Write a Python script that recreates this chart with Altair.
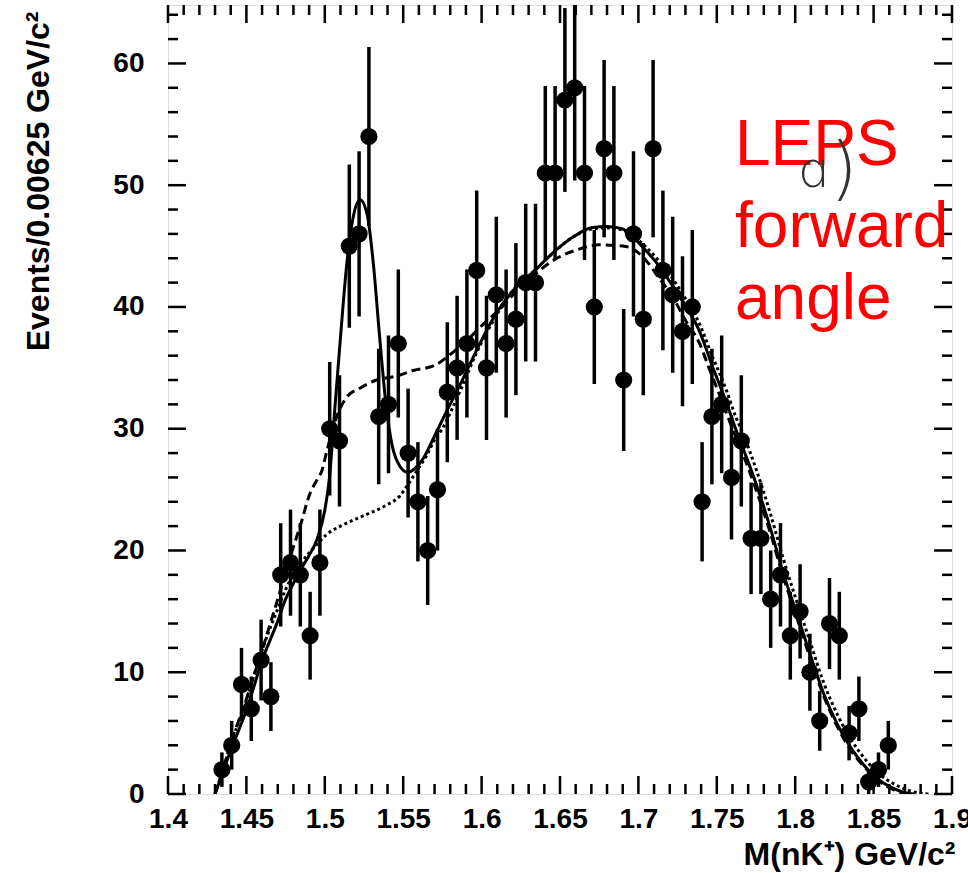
import altair as alt
import pandas as pd
import numpy as np

# ---- histogram: M(nK+) in bins of 0.00625 GeV/c^2 ----
BIN_WIDTH = 0.00625
FIRST_BIN = 5  # first filled bin counted from 1.4 GeV/c^2
counts = [2, 4, 9, 7, 11, 8, 18, 19, 18, 13,
          19, 30, 29, 45, 46, 54, 31, 32, 37, 28,
          24, 20, 25, 33, 35, 37, 43, 35, 41, 37,
          39, 42, 42, 51, 51, 57, 58, 51, 40, 53,
          51, 34, 46, 39, 53, 43, 41, 38, 40, 24,
          31, 32, 26, 29, 21, 21, 16, 18, 13, 15,
          10, 6, 14, 13, 5, 7, 1, 2, 4]
mass = [round(1.4 + (FIRST_BIN + i + 0.5) * BIN_WIDTH, 6) for i in range(len(counts))]

# ---- fit curves ----
solid_x = [1.430, 1.435, 1.440, 1.445, 1.450, 1.455, 1.460, 1.465, 1.470, 1.475,
           1.480, 1.485, 1.490, 1.495, 1.500, 1.503, 1.506, 1.510, 1.514, 1.518,
           1.5225, 1.527, 1.531, 1.535, 1.539, 1.543, 1.548, 1.553, 1.558, 1.563,
           1.570, 1.576, 1.587, 1.597, 1.608, 1.619, 1.634, 1.646, 1.659, 1.670,
           1.680, 1.690, 1.696, 1.705, 1.713, 1.722, 1.730, 1.739, 1.747, 1.756,
           1.762, 1.767, 1.775, 1.784, 1.792, 1.801, 1.810, 1.818, 1.827, 1.836,
           1.845, 1.853, 1.862, 1.870, 1.876]
solid_y = [0.0, 1.8, 3.6, 5.2, 6.9, 8.9, 11.0, 12.6, 14.2, 16.0,
           17.3, 18.5, 19.6, 20.9, 23.3, 26.0, 31.0, 37.5, 43.5, 47.3,
           48.8, 47.6, 43.5, 37.5, 32.0, 28.6, 26.9, 26.4, 26.8, 27.6,
           29.4, 31.0, 33.8, 36.5, 39.2, 41.2, 43.0, 44.5, 45.8, 46.5,
           46.6, 46.4, 45.8, 44.6, 43.4, 41.7, 40.1, 38.0, 35.2, 32.2,
           30.0, 28.3, 25.5, 21.9, 18.3, 14.8, 11.3, 8.3, 5.7, 3.7,
           2.2, 1.2, 0.5, 0.1, 0.0]

dashed_x = [1.430, 1.435, 1.440, 1.445, 1.450, 1.455, 1.460, 1.465, 1.470, 1.475,
            1.480, 1.485, 1.490, 1.495, 1.498, 1.501, 1.507, 1.514, 1.522, 1.533,
            1.545, 1.557, 1.570, 1.581, 1.591, 1.602, 1.613, 1.623, 1.636, 1.648,
            1.661, 1.675, 1.690, 1.696, 1.705, 1.713, 1.722, 1.730, 1.739, 1.745,
            1.752, 1.760, 1.767, 1.775, 1.784, 1.792, 1.801, 1.810, 1.818, 1.827,
            1.836, 1.845, 1.853, 1.862, 1.870]
dashed_y = [0.0, 2.0, 4.2, 6.0, 7.8, 9.8, 11.8, 13.9, 16.0, 18.2,
            20.3, 22.3, 24.5, 25.8, 26.5, 28.0, 30.8, 32.6, 33.3, 34.0,
            34.3, 34.8, 35.2, 36.2, 37.3, 38.7, 40.0, 41.4, 42.9, 44.0,
            44.7, 45.1, 45.0, 44.8, 43.8, 42.4, 40.8, 38.9, 37.0, 35.0,
            32.7, 30.0, 27.8, 25.0, 21.5, 18.0, 14.5, 11.0, 8.1, 5.5,
            3.5, 2.1, 1.1, 0.4, 0.0]

dotted_x = [1.430, 1.435, 1.440, 1.445, 1.450, 1.455, 1.460, 1.465, 1.470, 1.475,
            1.480, 1.485, 1.490, 1.495, 1.501, 1.510, 1.520, 1.531, 1.539, 1.548,
            1.554, 1.560, 1.565, 1.570, 1.575, 1.580, 1.587, 1.597, 1.608, 1.619,
            1.634, 1.646, 1.659, 1.670, 1.680, 1.690, 1.696, 1.705, 1.713, 1.722,
            1.730, 1.739, 1.747, 1.756, 1.762, 1.767, 1.775, 1.784, 1.792, 1.801,
            1.810, 1.818, 1.827, 1.836, 1.845, 1.853, 1.862, 1.870, 1.878, 1.886]
dotted_y = [0.0, 2.0, 4.0, 5.9, 7.7, 9.8, 11.8, 13.6, 15.2, 16.8,
            18.0, 19.0, 19.8, 20.5, 21.3, 22.0, 22.6, 23.2, 23.7, 24.5,
            25.6, 26.8, 27.8, 29.1, 30.0, 31.3, 33.3, 36.3, 39.0, 41.2,
            43.0, 44.5, 45.8, 46.4, 46.5, 46.3, 45.9, 44.9, 43.8, 42.3,
            40.7, 38.6, 36.0, 33.2, 31.0, 29.5, 26.7, 23.1, 19.5, 15.8,
            12.3, 9.2, 6.5, 4.4, 2.8, 1.7, 0.9, 0.4, 0.1, 0.0]

# ---- axes ----
x_labels = [1.4, 1.45, 1.5, 1.55, 1.6, 1.65, 1.7, 1.75, 1.8, 1.85, 1.9]
x_minor = [round(1.4 + 0.01 * i, 2) for i in range(51) if i % 5]
y_labels = [0, 10, 20, 30, 40, 50, 60]
y_minor = [v for v in range(2, 65, 2) if v % 10]

X_DOMAIN = [1.4, 1.9]
Y_DOMAIN = [0, 64.8]
W, H = 784, 789
FONT = "Liberation Sans"

xs = alt.Scale(domain=X_DOMAIN, nice=False, zero=False)
ys = alt.Scale(domain=Y_DOMAIN, nice=False, zero=True)

x_axis = alt.Axis(values=x_labels, format="~g", ticks=False, tickSize=0, domain=False,
                  grid=False, labelFlush=False, labelOverlap=False, labelPadding=11,
                  labelFont=FONT, labelFontWeight="bold", labelColor="black",
                  labelFontSize=28, title="M(nK⁺) GeV/c²", titleFontSize=32,
                  titleFont=FONT, titleFontWeight="bold", titleColor="black",
                  titleAlign="right", titleAnchor="end", titleX=787, titleY=70,
                  titleBaseline="alphabetic")
y_axis = alt.Axis(values=y_labels, ticks=False, tickSize=0, domain=False, grid=False,
                  labelFlush=False, labelOverlap=False, labelPadding=24,
                  labelFont=FONT, labelFontWeight="bold", labelColor="black",
                  labelFontSize=28, title="Events/0.00625 GeV/c²", titleFontSize=32,
                  titleFont=FONT, titleFontWeight="bold", titleColor="black",
                  titleAngle=270, titleAlign="right", titleAnchor="end",
                  titleX=-120, titleY=6, titleBaseline="alphabetic")


def X(field):
    return alt.X(field, scale=xs, axis=x_axis)


def Y(field):
    return alt.Y(field, scale=ys, axis=y_axis)


hist = pd.DataFrame({"mass": mass, "n": counts})
hist["err"] = np.sqrt(hist["n"])
hist["lo"] = (hist["n"] - hist["err"]).clip(lower=0)
hist["hi"] = hist["n"] + hist["err"]

errbars = alt.Chart(hist).mark_rule(color="black", strokeWidth=3.5, clip=True).encode(
    x=X("mass:Q"), y=Y("lo:Q"), y2="hi:Q",
)
points = alt.Chart(hist).mark_circle(color="black", size=295, opacity=1, clip=True).encode(
    x=X("mass:Q"), y=Y("n:Q"),
)


def curve(xv, yv, dash):
    df = pd.DataFrame({"m": xv, "v": yv})
    kw = dict(color="black", strokeWidth=3, clip=True, interpolate="monotone")
    if dash:
        kw["strokeDash"] = dash
    return alt.Chart(df).mark_line(**kw).encode(
        x=X("m:Q"), y=Y("v:Q"), order="m:Q",
    )


solid = curve(solid_x, solid_y, None)
dashed = curve(dashed_x, dashed_y, [9, 5])
dotted = curve(dotted_x, dotted_y, [3, 3])


# inward-facing ticks on all four sides of the frame
def xticks(vals, length):
    df = pd.DataFrame({"t": vals})
    base = alt.Chart(df).mark_rule(color="black", strokeWidth=2.5)
    bottom = base.encode(x=X("t:Q"), y=alt.value(H), y2=alt.value(H - length))
    top = base.encode(x=X("t:Q"), y=alt.value(0), y2=alt.value(length))
    return [bottom, top]


def yticks(vals, length):
    df = pd.DataFrame({"t": vals})
    base = alt.Chart(df).mark_rule(color="black", strokeWidth=2.5)
    left = base.encode(y=Y("t:Q"), x=alt.value(0), x2=alt.value(length))
    right = base.encode(y=Y("t:Q"), x=alt.value(W), x2=alt.value(W - length))
    return [left, right]


ticks = (xticks(x_labels, 18) + xticks(x_minor, 10)
         + yticks(y_labels, 18) + yticks(y_minor, 10))

# experiment label
label_lines = ["LEPS", "forward", "angle"]
label_baselines = [160, 242, 314]
labels = [
    alt.Chart(pd.DataFrame({"s": [s]})).mark_text(
        align="left", baseline="alphabetic", font=FONT, fontSize=64, color="#ff0000"
    ).encode(text="s:N", x=alt.value(567), y=alt.value(b))
    for s, b in zip(label_lines, label_baselines)
]
# thin hand-drawn panel tag "a)"
panel_a = alt.Chart(pd.DataFrame({"s": ["ɑ"]})).mark_text(
    align="center", baseline="alphabetic", font="DejaVu Sans", fontSize=50,
    fontWeight=200, color="#333333"
).encode(text="s:N", x=alt.value(644), y=alt.value(182))
panel_paren = alt.Chart(pd.DataFrame({"s": [")"]})).mark_text(
    align="center", baseline="alphabetic", font="DejaVu Sans", fontSize=70,
    fontWeight=200, color="#333333"
).encode(text="s:N", x=alt.value(676), y=alt.value(187))

chart = alt.layer(
    errbars, points, dotted, dashed, solid, *ticks, *labels, panel_a, panel_paren
).properties(
    width=W, height=H,
    autosize=alt.AutoSizeParams(type="none"),
    padding={"left": 168, "top": 5, "right": 16, "bottom": 79},
).configure_view(
    stroke="black", strokeWidth=3
).configure(background="white")

chart.save("out.html", embed_options={"renderer": "svg", "actions": False})
